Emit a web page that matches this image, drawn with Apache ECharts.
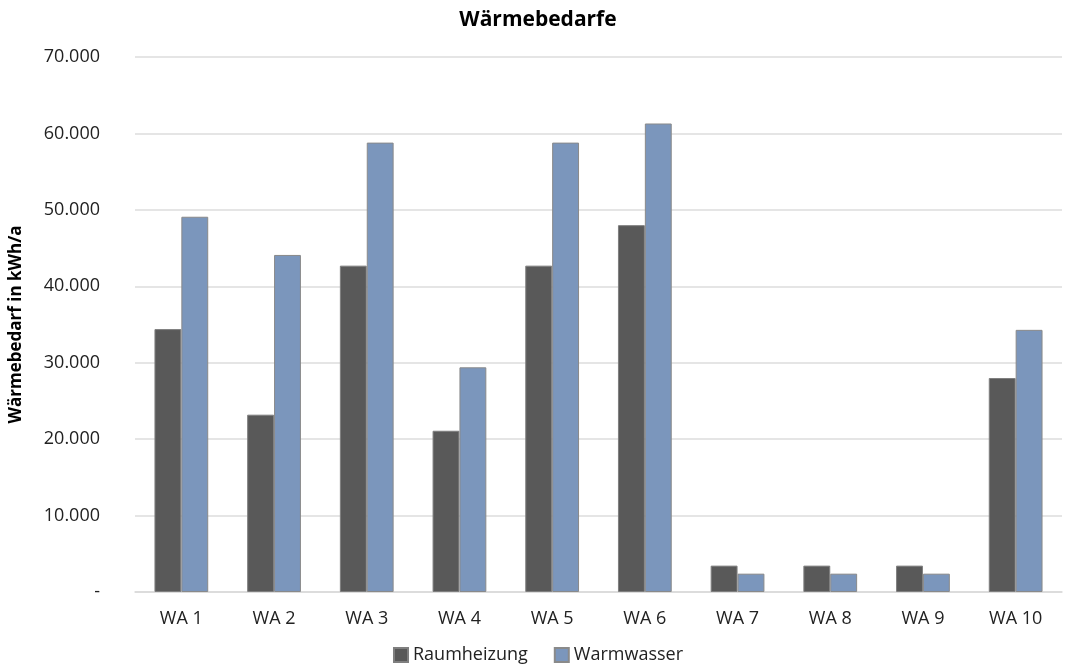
<!DOCTYPE html>
<html><head><meta charset="utf-8">
<script src="https://cdn.jsdelivr.net/npm/echarts@6/dist/echarts.min.js"></script>
<style>html,body{margin:0;padding:0;background:#fff}#c{width:1076px;height:666px}</style>
</head><body><div id="c"></div>
<script>
const categories = ['WA 1','WA 2','WA 3','WA 4','WA 5','WA 6','WA 7','WA 8','WA 9','WA 10'];
const raumheizung = [34400, 23200, 42700, 21100, 42700, 48000, 3450, 3450, 3450, 28000];
const warmwasser = [49100, 44100, 58800, 29400, 58800, 61300, 2400, 2400, 2400, 34300];
const seriesNames = ['Raumheizung', 'Warmwasser'];
const font = 'Open Sans';
function fmt(v){ if(v===0) return '-'; return String(v).replace(/\B(?=(\d{3})+(?!\d))/g,'.'); }
const chart = echarts.init(document.getElementById('c'), null, {renderer:'canvas'});
chart.setOption({
  animation:false,
  title:{text:'Wärmebedarfe', left:'center', top:5, textStyle:{fontFamily:font, fontSize:21, fontWeight:'bold', color:'#000'}},
  grid:{left:132, right:14, top:57, bottom:74},
  legend:{top:641, left:'center', itemWidth:14, itemHeight:14, itemGap:26, itemTextGap:5, icon:'rect',
    textStyle:{fontFamily:font, fontSize:18, color:'#222'}, data:seriesNames},
  xAxis:{type:'category', data:categories,
    axisLine:{lineStyle:{color:'#d9d9d9', width:1.5}}, axisTick:{show:false},
    axisLabel:{fontFamily:font, fontSize:18, color:'#222', margin:18}},
  yAxis:{type:'value', min:0, max:70000, interval:10000,
    name:'Wärmebedarf in kWh/a', nameLocation:'middle', nameGap:110,
    nameTextStyle:{fontFamily:font, fontSize:17, fontWeight:'bold', color:'#000'},
    axisLine:{show:false}, axisTick:{show:false},
    axisLabel:{fontFamily:font, fontSize:18, color:'#222', margin:35, formatter:fmt},
    splitLine:{lineStyle:{color:'#dcdcdc', width:1.5}}},
  series:[
    {name:seriesNames[0], type:'bar', data:raumheizung, barGap:'0%', barCategoryGap:'42%',
      itemStyle:{color:'#595959', borderColor:'#7f7f7f', borderWidth:1}},
    {name:seriesNames[1], type:'bar', data:warmwasser, barGap:'0%', barCategoryGap:'42%',
      itemStyle:{color:'#7b96bc', borderColor:'#8a8a8a', borderWidth:1}}
  ]
});
</script></body></html>
